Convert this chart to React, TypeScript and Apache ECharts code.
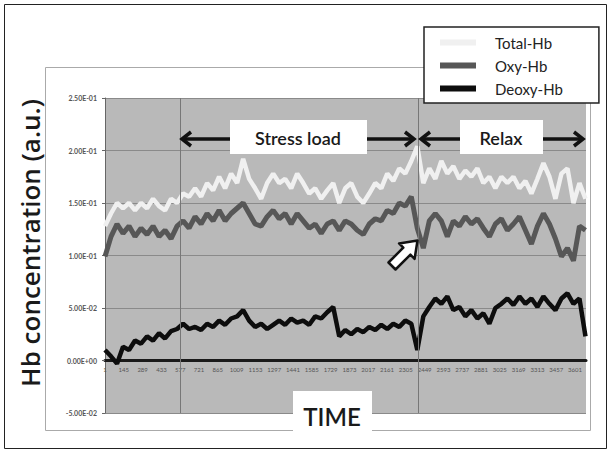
import React, { useEffect, useRef } from "react";
import * as echarts from "echarts";

// time index (samples)
const times = [0,46,92,138,184,230,276,322,368,414,460,506,552,598,644,690,736,782,828,874,920,966,1012,1058,1104,1150,1196,1242,1288,1334,1380,1426,1472,1518,1564,1610,1656,1702,1748,1794,1840,1886,1932,1978,2024,2070,2116,2162,2208,2254,2300,2346,2392,2438,2484,2530,2576,2622,2668,2714,2760,2806,2852,2898,2944,2990,3036,3082,3128,3174,3220,3266,3312,3358,3404,3450,3496,3542,3588,3634,3680];

const totalHb = [0.128,0.140,0.150,0.145,0.150,0.143,0.150,0.145,0.154,0.147,
0.143,0.154,0.150,0.159,0.156,0.164,0.156,0.169,0.162,0.175,
0.164,0.178,0.169,0.192,0.173,0.164,0.154,0.169,0.178,0.169,
0.173,0.164,0.178,0.169,0.159,0.164,0.154,0.162,0.169,0.150,
0.164,0.169,0.156,0.150,0.159,0.169,0.164,0.178,0.171,0.183,
0.178,0.190,0.204,0.169,0.183,0.173,0.190,0.178,0.185,0.173,
0.181,0.175,0.183,0.169,0.175,0.164,0.175,0.169,0.175,0.164,
0.171,0.159,0.173,0.188,0.175,0.154,0.178,0.183,0.150,0.169,
0.154];

const oxyHb = [0.099,0.118,0.130,0.121,0.128,0.118,0.126,0.120,0.128,0.118,
0.124,0.116,0.128,0.133,0.126,0.137,0.130,0.140,0.133,0.143,
0.133,0.140,0.145,0.150,0.140,0.130,0.128,0.137,0.143,0.135,
0.140,0.130,0.140,0.133,0.126,0.130,0.121,0.130,0.133,0.124,
0.133,0.130,0.124,0.120,0.130,0.135,0.133,0.143,0.140,0.150,
0.147,0.156,0.126,0.107,0.133,0.140,0.133,0.118,0.133,0.128,
0.137,0.130,0.135,0.126,0.118,0.130,0.135,0.124,0.130,0.137,
0.124,0.111,0.128,0.140,0.130,0.116,0.099,0.107,0.095,0.128,
0.124];

const deoxyHb = [0.010,0.004,-0.003,0.013,0.010,0.019,0.016,0.023,0.019,0.026,
0.021,0.028,0.030,0.035,0.030,0.032,0.029,0.035,0.032,0.038,
0.034,0.040,0.042,0.048,0.038,0.032,0.035,0.030,0.034,0.038,
0.034,0.040,0.036,0.038,0.034,0.042,0.040,0.046,0.051,0.023,
0.029,0.025,0.030,0.027,0.032,0.029,0.034,0.030,0.035,0.032,
0.038,0.035,0.010,0.042,0.051,0.059,0.054,0.061,0.048,0.051,
0.042,0.048,0.040,0.045,0.035,0.050,0.054,0.059,0.053,0.061,
0.054,0.059,0.051,0.061,0.054,0.048,0.059,0.064,0.054,0.059,
0.023];

const seriesNames = ["Total-Hb", "Oxy-Hb", "Deoxy-Hb"];
const phaseBounds = [576, 2398];
const phaseLabels = ["Stress load", "Relax"];
const xTitle = "TIME";
const yTitle = "Hb concentration (a.u.)";

function sci(v: number): string {
  if (Math.abs(v) < 1e-12) return "0.00E+00";
  const e = Math.floor(Math.log10(Math.abs(v)) + 1e-9);
  const m = v / Math.pow(10, e);
  return m.toFixed(2) + "E" + (e < 0 ? "-" : "+") + String(Math.abs(e)).padStart(2, "0");
}

const FONT = "Lato";

function arrowHead(x: number, y: number, dir: number) {
  return {
    type: "polyline",
    shape: { points: [[x - dir * 9, y - 7], [x, y], [x - dir * 9, y + 7]] },
    style: { stroke: "#111", lineWidth: 3.5, fill: "none" },
    z: 100,
  };
}
function shaft(x1: number, x2: number, y: number) {
  return { type: "line", shape: { x1, y1: y, x2, y2: y }, style: { stroke: "#111", lineWidth: 3.5 }, z: 100 };
}

export default function App() {
  const ref = useRef<HTMLDivElement>(null);
  useEffect(() => {
    if (!ref.current) return;
    const chart = echarts.init(ref.current, null, { renderer: "svg" });
    const mk = (arr: number[]) => times.map((t, i) => [t, arr[i]]);
    const ay = 139;
    const gridTop = 98, gridBottom = 40, H = 453;
    const yMin = -0.05, yMax = 0.25;
    const plotH = H - gridTop - gridBottom;
    const zeroOffset = -((0 - yMin) / (yMax - yMin)) * plotH;
    chart.setOption({
      animation: false,
      backgroundColor: "#ffffff",
      textStyle: { fontFamily: FONT },
      grid: {
        left: 105, right: 25, top: gridTop, bottom: gridBottom,
        show: true, backgroundColor: "#b9b9b9", borderWidth: 0,
      },
      legend: {
        orient: "vertical",
        left: 424, top: 27,
        icon: "rect",
        itemWidth: 36, itemHeight: 6, itemGap: 8,
        padding: [8, 36, 7, 16],
        backgroundColor: "#fff",
        borderColor: "#222", borderWidth: 1.5,
        textStyle: { fontFamily: FONT, fontSize: 15, color: "#222", padding: [0, 0, 0, 14] },
        data: seriesNames,
      },
      xAxis: {
        type: "value",
        min: 0, max: 3684, interval: 144,
        offset: zeroOffset,
        axisLine: { onZero: false, lineStyle: { color: "#1a1a1a", width: 3 } },
        axisTick: { show: false },
        splitLine: { show: false },
        axisLabel: {
          fontSize: 6, color: "#555", margin: 6,
          showMaxLabel: false,
          formatter: (v: number) => String(v + 1),
        },
      },
      yAxis: {
        type: "value",
        min: yMin, max: yMax, interval: 0.05,
        axisLine: { show: true, lineStyle: { color: "#666", width: 1 } },
        axisTick: { show: true, length: 3, lineStyle: { color: "#666" } },
        splitLine: { show: true, lineStyle: { color: "#8a8a8a", width: 1 } },
        axisLabel: { fontSize: 7, color: "#555", margin: 8, fontWeight: "bold", formatter: sci },
      },
      series: [
        {
          name: seriesNames[0], type: "line", data: mk(totalHb), symbol: "none",
          lineStyle: { color: "#f0f0f0", width: 4.5 }, itemStyle: { color: "#f0f0f0" },
          markLine: {
            silent: true, symbol: "none", label: { show: false },
            lineStyle: { color: "#777", width: 1, type: "solid" },
            data: phaseBounds.map((b) => ({ xAxis: b })),
          },
        },
        {
          name: seriesNames[1], type: "line", data: mk(oxyHb), symbol: "none",
          lineStyle: { color: "#575757", width: 5 }, itemStyle: { color: "#575757" },
        },
        {
          name: seriesNames[2], type: "line", data: mk(deoxyHb), symbol: "none",
          lineStyle: { color: "#0d0d0d", width: 4.5 }, itemStyle: { color: "#0d0d0d" },
        },
      ],
      graphic: [
        { type: "rect", shape: { x: 4.5, y: 4.5, width: 602, height: 444 }, style: { fill: "none", stroke: "#222", lineWidth: 1 }, z: 1 },
        { type: "rect", shape: { x: 45.5, y: 67.5, width: 545, height: 363 }, style: { fill: "none", stroke: "#aaa", lineWidth: 1 }, z: 1 },
        {
          type: "text", x: 30, y: 243, rotation: Math.PI / 2,
          style: { text: yTitle, font: `600 26px 'Open Sans'`, fill: "#1a1a1a", textAlign: "center", textVerticalAlign: "middle" },
          z: 100,
        },
        { type: "rect", shape: { x: 293, y: 391, width: 79, height: 45 }, style: { fill: "#fff" }, z: 100 },
        {
          type: "text", x: 332, y: 416,
          style: { text: xTitle, font: `600 24px ${FONT}`, fill: "#1a1a1a", textAlign: "center", textVerticalAlign: "middle" },
          z: 101,
        },
        { type: "rect", shape: { x: 230, y: 120, width: 137, height: 34 }, style: { fill: "#fff" }, z: 100 },
        {
          type: "text", x: 298, y: 138,
          style: { text: phaseLabels[0], font: `600 18px ${FONT}`, fill: "#1a1a1a", textAlign: "center", textVerticalAlign: "middle" },
          z: 101,
        },
        { type: "rect", shape: { x: 460, y: 120, width: 83, height: 34 }, style: { fill: "#fff" }, z: 100 },
        {
          type: "text", x: 501, y: 138,
          style: { text: phaseLabels[1], font: `600 18px ${FONT}`, fill: "#1a1a1a", textAlign: "center", textVerticalAlign: "middle" },
          z: 101,
        },
        shaft(183, 230, ay), arrowHead(182, ay, -1),
        shaft(367, 412, ay), arrowHead(414, ay, 1),
        shaft(422, 460, ay), arrowHead(421, ay, -1),
        shaft(543, 581, ay), arrowHead(583, ay, 1),
        {
          type: "polygon",
          shape: { points: [[388.5, 262.5], [403.3, 247.7], [399.1, 243.4], [417.5, 240.5], [414.6, 258.9], [410.4, 254.7], [395.5, 269.5]] },
          style: { fill: "#fff", stroke: "#111", lineWidth: 2.5, lineJoin: "round" },
          z: 100,
        },
      ],
    });
    return () => chart.dispose();
  }, []);
  return <div ref={ref} style={{ position: "fixed", left: 0, top: 0, width: 611, height: 453 }} />;
}
